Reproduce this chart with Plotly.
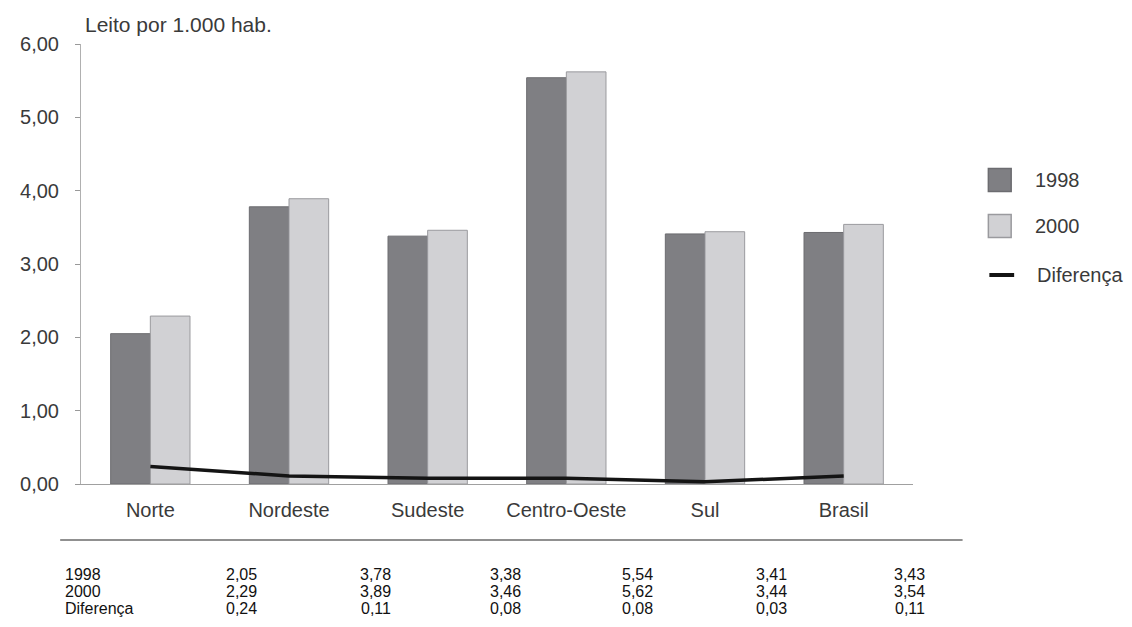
import plotly.graph_objects as go

categories = ["Norte", "Nordeste", "Sudeste", "Centro-Oeste", "Sul", "Brasil"]
v1998 = [2.05, 3.78, 3.38, 5.54, 3.41, 3.43]
v2000 = [2.29, 3.89, 3.46, 5.62, 3.44, 3.54]
diferenca = [0.24, 0.11, 0.08, 0.08, 0.03, 0.11]
row_labels = ["1998", "2000", "Diferença"]
y_ticks = [0, 1, 2, 3, 4, 5, 6]

FONT = "Liberation Sans, Arial, sans-serif"
C_DARK = "#7f7f83"
C_LIGHT = "#d1d1d4"
C_TEXT = "#3a3a3a"

# page has an 8px body margin; figure sized so it fills the 1132x627 window
OFF = 8
W, H = 1132 - OFF, 627 - OFF
L, R, T, B = 66, 219, 36, 143
pw, ph = W - L - R, H - T - B


def px_x(sx):
    return (sx - OFF - L) / pw


def px_y(sy):
    return (H - B - (sy - OFF)) / ph


fig = go.Figure()
fig.add_trace(go.Bar(
    x=categories, y=v1998, name="1998", showlegend=False,
    marker=dict(color=C_DARK, line=dict(color="#6c6c70", width=1)),
))
fig.add_trace(go.Bar(
    x=categories, y=v2000, name="2000", showlegend=False,
    marker=dict(color=C_LIGHT, line=dict(color="#9a9a9e", width=1)),
))
fig.add_trace(go.Scatter(
    x=categories, y=diferenca, name="Diferença", showlegend=False,
    mode="lines", line=dict(color="#141414", width=3.5),
))

ann = []
shapes = []

# axis title
ann.append(dict(x=px_x(76), y=px_y(25), xref="paper", yref="paper",
                text="Leito por 1.000 hab.", showarrow=False, xanchor="left",
                yanchor="middle", font=dict(size=21, color=C_TEXT, family=FONT)))

# legend (drawn manually to match the large swatches)
leg_items = [("1998", C_DARK, "#6c6c70", 180), ("2000", C_LIGHT, "#9a9a9e", 226)]
for lab, fc, lc, cy in leg_items:
    shapes.append(dict(type="rect", xref="paper", yref="paper",
                       x0=px_x(989), x1=px_x(1012), y0=px_y(cy + 11.5), y1=px_y(cy - 11.5),
                       fillcolor=fc, line=dict(color=lc, width=1.5)))
    ann.append(dict(x=px_x(1034), y=px_y(cy), xref="paper", yref="paper", text=lab,
                    showarrow=False, xanchor="left", yanchor="middle",
                    font=dict(size=20, color=C_TEXT, family=FONT)))
shapes.append(dict(type="line", xref="paper", yref="paper",
                   x0=px_x(990), x1=px_x(1015), y0=px_y(275), y1=px_y(275),
                   line=dict(color="#141414", width=4)))
ann.append(dict(x=px_x(1036), y=px_y(275), xref="paper", yref="paper", text="Diferença",
                showarrow=False, xanchor="left", yanchor="middle",
                font=dict(size=20, color=C_TEXT, family=FONT)))

# table
rows = [v1998, v2000, diferenca]
row_y = [574, 591, 608]
col_right = [254, 389, 520, 653, 788, 927]
for ri, (lab, vals) in enumerate(zip(row_labels, rows)):
    ann.append(dict(x=px_x(56), y=px_y(row_y[ri]), xref="paper", yref="paper",
                    text=lab, showarrow=False, xanchor="left", yanchor="middle",
                    font=dict(size=16, color="#111", family=FONT)))
    for ci, v in enumerate(vals):
        txt = f"{v:.2f}".replace(".", ",")
        ann.append(dict(x=px_x(col_right[ci]), y=px_y(row_y[ri]), xref="paper", yref="paper",
                        text=txt, showarrow=False, xanchor="right", yanchor="middle",
                        font=dict(size=16, color="#111", family=FONT)))

shapes.append(dict(type="line", xref="paper", yref="paper",
                   x0=px_x(53), x1=px_x(963), y0=px_y(540), y1=px_y(540),
                   line=dict(color="#222", width=1.2)))

fig.update_layout(
    width=W, height=H,
    margin=dict(l=L, r=R, t=T, b=B),
    paper_bgcolor="white", plot_bgcolor="white",
    separators=",.",
    font=dict(family=FONT, color=C_TEXT),
    barmode="group", bargap=0.428, bargroupgap=0,
    showlegend=False,
    xaxis=dict(showgrid=False, showline=True, linecolor="#a0a0a0", linewidth=1,
               ticks="", tickfont=dict(size=20, color=C_TEXT, family=FONT),
               ticklabelstandoff=8, range=[-0.5, 5.5]),
    yaxis=dict(range=[0, 6], tickvals=y_ticks, tickformat=".2f",
               showgrid=False, showline=True, linecolor="#b0b0b0", linewidth=1,
               ticks="outside", ticklen=5, tickcolor="#999",
               ticklabelstandoff=12,
               tickfont=dict(size=20, color=C_TEXT, family=FONT), zeroline=False),
    annotations=ann, shapes=shapes,
)

fig.write_html("out.html")
